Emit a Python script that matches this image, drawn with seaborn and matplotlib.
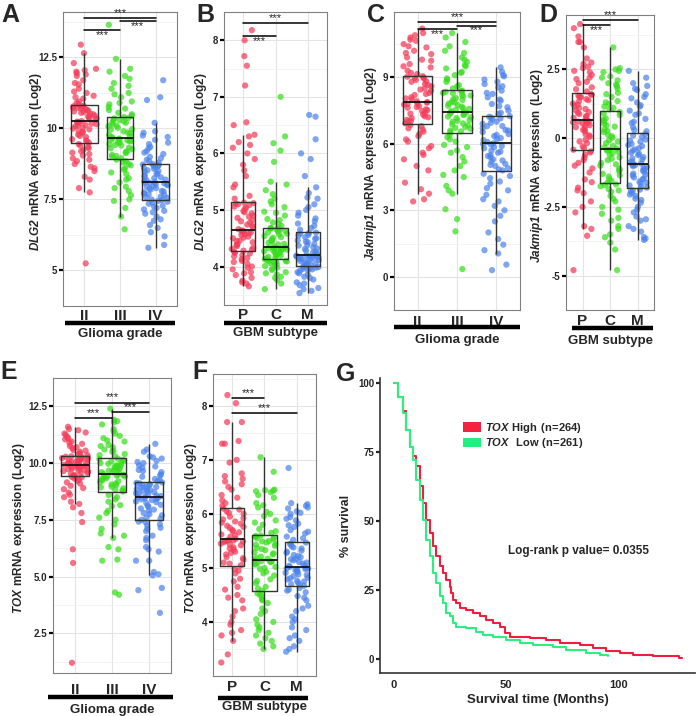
import numpy as np
import pandas as pd
import matplotlib
matplotlib.use("Agg")
import matplotlib.pyplot as plt
from matplotlib.patches import Patch
import seaborn as sns

# ---- values ----
grades = ["II", "III", "IV"]
subtypes = ["P", "C", "M"]

# A: DLG2 by glioma grade
dlg2_grade_II = [5.25, 7.75, 7.9, 8.3, 8.5, 8.6, 8.75, 8.85, 8.95, 9.05, 9.15, 9.25, 9.35, 9.45,
                 9.5, 9.55, 9.62, 9.7, 9.78, 9.85, 9.9, 9.97, 10.03, 10.08, 10.12, 10.17, 10.2, 10.24,
                 10.26, 10.3, 10.35, 10.4, 10.45, 10.5, 10.55, 10.6, 10.63, 10.67, 10.7, 10.73, 10.76, 10.8,
                 10.85, 10.95, 11.05, 11.15, 11.25, 11.4, 11.55, 11.7, 11.85, 11.95, 12.05, 12.3, 12.65, 12.95,
                 8.2, 8.65, 8.9, 9.1, 9.2, 9.3, 9.4, 9.58, 9.74, 9.88, 10.0, 10.1, 10.15, 10.22,
                 10.33, 10.43, 10.52, 10.58, 10.65, 10.72, 10.78, 10.9, 11.1, 11.3, 11.6, 11.9, 12.0, 12.1]
dlg2_grade_III = [6.45, 6.9, 7.2, 7.45, 7.65, 7.8, 7.95, 8.1, 8.25, 8.4, 8.55, 8.7, 8.8, 8.9,
                  8.95, 9.0, 9.07, 9.13, 9.2, 9.27, 9.33, 9.4, 9.45, 9.5, 9.55, 9.58, 9.62, 9.64,
                  9.66, 9.7, 9.77, 9.83, 9.9, 9.96, 10.02, 10.08, 10.14, 10.2, 10.25, 10.3, 10.35, 10.4,
                  10.45, 10.55, 10.65, 10.75, 10.85, 10.95, 11.1, 11.25, 11.4, 11.6, 11.85, 12.1, 12.45, 13.65,
                  7.5, 7.9, 8.2, 8.45, 8.6, 8.75, 8.85, 9.03, 9.17, 9.3, 9.42, 9.52, 9.56, 9.6,
                  9.74, 9.86, 9.98, 10.1, 10.22, 10.3, 10.37, 10.5, 10.7, 10.9, 11.2, 11.5, 11.75, 12.0]
dlg2_grade_IV = [5.8, 5.9, 6.2, 6.35, 6.6, 6.75, 6.9, 7.0, 7.1, 7.2, 7.28, 7.35, 7.42, 7.48,
                 7.5, 7.55, 7.6, 7.65, 7.7, 7.75, 7.8, 7.85, 7.9, 7.95, 8.0, 8.04, 8.07, 8.09,
                 8.11, 8.15, 8.2, 8.25, 8.3, 8.36, 8.42, 8.48, 8.53, 8.58, 8.63, 8.67, 8.71, 8.75,
                 8.8, 8.9, 9.0, 9.1, 9.2, 9.3, 9.45, 9.6, 9.75, 9.85, 10.2, 11.0, 11.1, 11.7,
                 6.5, 6.8, 7.05, 7.15, 7.25, 7.38, 7.45, 7.58, 7.68, 7.78, 7.88, 7.98, 8.02, 8.08,
                 8.18, 8.28, 8.39, 8.5, 8.6, 8.69, 8.73, 8.85, 8.95, 9.15, 9.35, 9.5, 9.7, 9.9]

# B: DLG2 by GBM subtype
dlg2_sub_P = [3.65, 3.7, 3.75, 3.8, 3.85, 3.9, 3.95, 4.0, 4.05, 4.1, 4.15, 4.2, 4.23, 4.26,
              4.28, 4.3, 4.33, 4.36, 4.4, 4.43, 4.46, 4.5, 4.53, 4.56, 4.59, 4.61, 4.63, 4.64,
              4.66, 4.7, 4.74, 4.78, 4.82, 4.86, 4.9, 4.94, 4.98, 5.02, 5.06, 5.09, 5.11, 5.13,
              5.2, 5.4, 5.6, 5.8, 6.0, 6.15, 6.33, 6.5, 6.55, 7.2, 7.55, 7.72, 8.0, 8.18,
              3.72, 3.88, 3.98, 4.08, 4.13, 4.18, 4.24, 4.31, 4.38, 4.45, 4.51, 4.57, 4.6, 4.62,
              4.72, 4.8, 4.88, 4.96, 5.04, 5.1, 5.12, 5.25, 5.45, 5.7, 5.9, 6.1, 6.2, 6.3]
dlg2_sub_C = [3.6, 3.7, 3.76, 3.82, 3.86, 3.9, 3.94, 3.98, 4.01, 4.04, 4.07, 4.09, 4.1, 4.11,
              4.13, 4.15, 4.17, 4.19, 4.21, 4.23, 4.25, 4.27, 4.29, 4.3, 4.31, 4.32, 4.33, 4.34,
              4.36, 4.39, 4.42, 4.45, 4.48, 4.51, 4.54, 4.57, 4.6, 4.62, 4.64, 4.66, 4.67, 4.68,
              4.72, 4.78, 4.84, 4.9, 4.97, 5.05, 5.15, 5.28, 5.45, 5.85, 6.05, 6.18, 6.3, 7.0,
              3.8, 3.88, 3.96, 4.02, 4.06, 4.08, 4.1, 4.16, 4.2, 4.24, 4.28, 4.3, 4.32, 4.33,
              4.4, 4.46, 4.52, 4.58, 4.63, 4.66, 4.68, 4.75, 4.82, 4.95, 5.1, 5.2, 5.35, 5.5]
dlg2_sub_M = [3.53, 3.57, 3.62, 3.67, 3.72, 3.77, 3.82, 3.86, 3.9, 3.93, 3.95, 3.97, 3.98, 3.99,
              4.01, 4.03, 4.05, 4.07, 4.09, 4.11, 4.13, 4.14, 4.15, 4.16, 4.17, 4.18, 4.19, 4.2,
              4.22, 4.25, 4.28, 4.31, 4.34, 4.37, 4.4, 4.43, 4.46, 4.49, 4.52, 4.55, 4.58, 4.6,
              4.65, 4.72, 4.8, 4.9, 5.0, 5.1, 5.22, 5.4, 5.6, 5.9, 6.0, 6.25, 6.65, 6.68,
              3.6, 3.7, 3.8, 3.88, 3.94, 3.96, 3.99, 4.02, 4.06, 4.1, 4.13, 4.16, 4.18, 4.19,
              4.26, 4.32, 4.38, 4.44, 4.5, 4.56, 4.59, 4.68, 4.76, 4.85, 4.95, 5.05, 5.2, 5.3]

# C: Jakmip1 by glioma grade
jak_grade_II = [3.4, 3.5, 3.75, 3.95, 4.25, 4.8, 5.3, 5.6, 5.8, 6.1, 6.35, 6.55, 6.7, 6.85,
                6.92, 7.0, 7.08, 7.16, 7.24, 7.32, 7.4, 7.48, 7.56, 7.63, 7.7, 7.77, 7.83, 7.88,
                7.92, 8.0, 8.1, 8.2, 8.3, 8.4, 8.5, 8.6, 8.7, 8.8, 8.88, 8.95, 9.0, 9.05,
                9.15, 9.3, 9.45, 9.6, 9.75, 9.9, 10.05, 10.2, 10.35, 10.5, 10.65, 10.8, 11.0, 11.2,
                5.0, 5.5, 5.9, 6.2, 6.45, 6.65, 6.8, 7.04, 7.2, 7.36, 7.52, 7.66, 7.8, 7.86,
                8.05, 8.25, 8.45, 8.65, 8.82, 8.98, 9.03, 9.2, 9.5, 9.8, 10.1, 10.4, 10.7, 10.9]
jak_grade_III = [0.35, 2.05, 2.6, 3.05, 3.75, 3.9, 4.5, 4.6, 5.0, 5.4, 5.7, 5.95, 6.2, 6.4,
                 6.52, 6.6, 6.68, 6.76, 6.84, 6.92, 7.0, 7.08, 7.16, 7.23, 7.3, 7.36, 7.41, 7.44,
                 7.47, 7.54, 7.61, 7.68, 7.75, 7.82, 7.9, 7.98, 8.06, 8.14, 8.22, 8.29, 8.35, 8.4,
                 8.5, 8.65, 8.8, 8.95, 9.1, 9.25, 9.4, 9.55, 9.7, 9.9, 10.1, 10.4, 10.8, 11.0,
                 4.1, 4.8, 5.2, 5.6, 5.85, 6.1, 6.3, 6.56, 6.72, 6.88, 7.04, 7.2, 7.33, 7.43,
                 7.58, 7.72, 7.86, 8.02, 8.18, 8.3, 8.38, 8.6, 8.9, 9.2, 9.5, 9.8, 10.2, 10.6]
jak_grade_IV = [0.3, 0.55, 1.05, 1.2, 1.45, 1.7, 2.5, 2.75, 3.2, 3.5, 3.9, 4.2, 4.45, 4.65,
                4.8, 4.9, 5.0, 5.1, 5.2, 5.3, 5.4, 5.5, 5.6, 5.7, 5.8, 5.9, 5.97, 6.02,
                6.08, 6.17, 6.26, 6.35, 6.44, 6.53, 6.62, 6.71, 6.8, 6.9, 7.0, 7.1, 7.18, 7.25,
                7.35, 7.5, 7.65, 7.8, 7.95, 8.1, 8.25, 8.4, 8.55, 8.7, 8.9, 9.05, 9.25, 9.45,
                2.0, 3.0, 3.4, 3.7, 4.0, 4.3, 4.55, 4.85, 5.05, 5.25, 5.45, 5.65, 5.85, 6.0,
                6.2, 6.4, 6.6, 6.8, 6.95, 7.15, 7.22, 7.4, 7.7, 8.0, 8.3, 8.6, 8.8, 9.1]

# D: Jakmip1 by GBM subtype
jak_sub_P = [-4.8, -3.55, -3.3, -3.2, -2.7, -2.3, -2.0, -1.8, -1.5, -1.25, -1.0, -0.8, -0.6, -0.48,
             -0.42, -0.3, -0.18, -0.06, 0.05, 0.15, 0.25, 0.33, 0.4, 0.47, 0.53, 0.58, 0.62, 0.64,
             0.67, 0.74, 0.81, 0.88, 0.95, 1.02, 1.1, 1.18, 1.26, 1.34, 1.42, 1.49, 1.55, 1.6,
             1.7, 1.85, 2.0, 2.15, 2.3, 2.45, 2.6, 2.75, 2.9, 3.3, 3.5, 3.7, 4.0, 4.15,
             -2.5, -1.9, -1.6, -1.1, -0.9, -0.7, -0.52, -0.36, -0.12, 0.1, 0.3, 0.44, 0.55, 0.6,
             0.78, 0.92, 1.06, 1.22, 1.38, 1.5, 1.58, 1.78, 2.05, 2.2, 2.4, 2.55, 2.7, 3.5]
jak_sub_C = [-4.8, -4.05, -3.8, -3.5, -3.2, -3.0, -2.75, -2.5, -2.3, -2.1, -1.95, -1.85, -1.75, -1.68,
             -1.62, -1.5, -1.4, -1.3, -1.2, -1.1, -1.0, -0.9, -0.8, -0.7, -0.6, -0.5, -0.45, -0.42,
             -0.38, -0.28, -0.18, -0.08, 0.02, 0.12, 0.22, 0.32, 0.42, 0.52, 0.62, 0.72, 0.84, 0.95,
             1.05, 1.15, 1.25, 1.35, 1.5, 1.65, 1.8, 1.95, 2.1, 2.25, 2.4, 2.5, 2.55, 3.3,
             -3.6, -3.3, -2.9, -2.6, -2.2, -1.9, -1.7, -1.55, -1.35, -1.15, -0.95, -0.75, -0.55, -0.43,
             -0.33, -0.13, 0.07, 0.27, 0.47, 0.67, 0.9, 1.1, 1.3, 1.6, 1.9, 2.2, 2.45, 2.0]
jak_sub_M = [-3.7, -3.6, -3.4, -3.2, -3.0, -2.85, -2.7, -2.5, -2.35, -2.2, -2.1, -2.0, -1.93, -1.87,
             -1.8, -1.72, -1.65, -1.58, -1.5, -1.43, -1.36, -1.29, -1.22, -1.15, -1.08, -1.02, -0.98, -0.96,
             -0.92, -0.85, -0.77, -0.69, -0.61, -0.53, -0.45, -0.37, -0.29, -0.21, -0.13, -0.05, 0.05, 0.15,
             0.25, 0.4, 0.55, 0.7, 0.85, 1.0, 1.15, 1.3, 1.45, 1.6, 1.75, 1.9, 2.0, 2.45,
             -3.65, -3.3, -2.95, -2.6, -2.25, -2.05, -1.9, -1.76, -1.62, -1.46, -1.32, -1.18, -1.05, -0.97,
             -0.88, -0.73, -0.57, -0.41, -0.25, -0.09, 0.1, 0.3, 0.6, 0.9, 1.2, 1.5, 1.8, 2.2]

# E: TOX by glioma grade
tox_grade_II = [1.2, 5.6, 6.2, 7.4, 7.8, 8.05, 8.3, 8.5, 8.7, 8.85, 9.0, 9.15, 9.27, 9.37,
                9.42, 9.47, 9.52, 9.57, 9.62, 9.67, 9.71, 9.75, 9.79, 9.82, 9.85, 9.87, 9.89, 9.9,
                9.92, 9.95, 9.98, 10.01, 10.04, 10.07, 10.1, 10.13, 10.16, 10.19, 10.22, 10.25, 10.28, 10.3,
                10.35, 10.42, 10.5, 10.58, 10.66, 10.75, 10.85, 10.95, 11.05, 11.15, 11.25, 11.35, 11.5, 11.6,
                8.2, 8.6, 8.9, 9.1, 9.22, 9.32, 9.39, 9.45, 9.55, 9.65, 9.73, 9.8, 9.86, 9.89,
                9.94, 10.0, 10.06, 10.12, 10.18, 10.24, 10.29, 10.4, 10.55, 10.7, 10.9, 11.1, 11.3, 11.45]
tox_grade_III = [4.2, 4.3, 5.7, 5.75, 6.2, 6.3, 6.7, 6.9, 7.3, 7.6, 7.9, 8.15, 8.4, 8.6,
                 8.75, 8.82, 8.89, 8.96, 9.03, 9.1, 9.17, 9.24, 9.3, 9.36, 9.41, 9.45, 9.48, 9.49,
                 9.52, 9.57, 9.62, 9.67, 9.72, 9.77, 9.82, 9.87, 9.92, 9.97, 10.02, 10.08, 10.14, 10.2,
                 10.3, 10.4, 10.5, 10.6, 10.7, 10.8, 10.95, 11.1, 11.3, 11.5, 11.7, 11.85, 11.9, 12.4,
                 6.8, 7.1, 7.5, 7.8, 8.1, 8.3, 8.5, 8.8, 8.93, 9.06, 9.2, 9.33, 9.43, 9.47,
                 9.6, 9.7, 9.8, 9.9, 10.0, 10.1, 10.18, 10.35, 10.55, 10.75, 11.0, 11.2, 11.4, 11.8]
tox_grade_IV = [3.4, 4.4, 4.5, 5.05, 5.2, 5.7, 6.1, 6.3, 6.6, 6.8, 7.0, 7.15, 7.3, 7.4,
                7.5, 7.6, 7.7, 7.8, 7.9, 8.0, 8.08, 8.16, 8.24, 8.31, 8.37, 8.42, 8.46, 8.49,
                8.52, 8.57, 8.62, 8.67, 8.72, 8.77, 8.82, 8.87, 8.92, 8.97, 9.02, 9.07, 9.11, 9.15,
                9.2, 9.3, 9.4, 9.5, 9.6, 9.7, 9.8, 9.9, 10.0, 10.1, 10.2, 10.3, 10.6, 10.85,
                5.1, 5.7, 6.2, 6.7, 7.1, 7.25, 7.42, 7.55, 7.75, 7.95, 8.12, 8.28, 8.4, 8.47,
                8.55, 8.65, 8.75, 8.85, 8.95, 9.05, 9.13, 9.25, 9.45, 9.65, 9.85, 10.05, 10.25, 10.5]

# F: TOX by GBM subtype
tox_sub_P = [3.25, 3.4, 3.65, 3.75, 3.85, 3.95, 4.1, 4.25, 4.4, 4.5, 4.65, 4.8, 4.9, 4.98,
             5.05, 5.1, 5.15, 5.2, 5.25, 5.3, 5.34, 5.38, 5.42, 5.45, 5.48, 5.5, 5.51, 5.52,
             5.54, 5.58, 5.62, 5.66, 5.7, 5.74, 5.78, 5.82, 5.86, 5.9, 5.95, 6.0, 6.05, 6.1,
             6.15, 6.25, 6.35, 6.45, 6.55, 6.65, 6.75, 6.95, 7.0, 7.3, 7.35, 7.7, 8.05, 8.2,
             3.8, 4.0, 4.2, 4.45, 4.6, 4.75, 4.95, 5.08, 5.18, 5.28, 5.36, 5.44, 5.49, 5.51,
             5.6, 5.68, 5.76, 5.84, 5.92, 6.02, 6.08, 6.2, 6.3, 6.5, 6.6, 6.7, 7.3, 7.7]
tox_sub_C = [3.5, 3.6, 3.65, 3.7, 3.8, 3.9, 3.95, 4.05, 4.15, 4.25, 4.35, 4.42, 4.48, 4.53,
             4.58, 4.65, 4.72, 4.79, 4.86, 4.93, 4.98, 5.02, 5.06, 5.09, 5.11, 5.12, 5.13, 5.14,
             5.17, 5.21, 5.25, 5.29, 5.33, 5.37, 5.41, 5.44, 5.47, 5.5, 5.53, 5.56, 5.58, 5.6,
             5.65, 5.72, 5.8, 5.88, 5.96, 6.04, 6.12, 6.2, 6.3, 6.4, 6.42, 6.45, 6.78, 7.05,
             3.55, 3.75, 3.85, 4.0, 4.2, 4.4, 4.5, 4.62, 4.76, 4.9, 5.0, 5.08, 5.12, 5.14,
             5.19, 5.27, 5.35, 5.43, 5.49, 5.55, 5.59, 5.68, 5.84, 6.0, 6.16, 6.35, 6.43, 6.44]
tox_sub_M = [3.45, 3.55, 3.65, 3.75, 3.9, 4.0, 4.1, 4.2, 4.3, 4.4, 4.48, 4.55, 4.6, 4.63,
             4.67, 4.7, 4.73, 4.76, 4.79, 4.82, 4.85, 4.88, 4.91, 4.94, 4.96, 4.98, 4.99, 5.0,
             5.02, 5.05, 5.08, 5.11, 5.14, 5.17, 5.2, 5.24, 5.28, 5.32, 5.36, 5.4, 5.44, 5.47,
             5.52, 5.58, 5.64, 5.7, 5.76, 5.82, 5.88, 5.94, 6.0, 6.05, 6.1, 6.15, 6.2, 6.85,
             3.5, 3.7, 3.85, 4.05, 4.25, 4.45, 4.58, 4.69, 4.75, 4.81, 4.87, 4.93, 4.97, 4.99,
             5.04, 5.1, 5.16, 5.22, 5.3, 5.38, 5.45, 5.55, 5.67, 5.79, 5.91, 6.02, 6.12, 6.18]

# G: Kaplan-Meier curves
high_time = [0, 1.8, 4, 5.5, 7, 8.5, 10, 11.4, 12.9, 14.4, 15.9, 17.4, 18.8, 20.3, 21.8, 23.3, 24.8,
             25.5, 26.3, 27.7, 29.2, 32.2, 35.2, 38.1, 41.1, 44, 47, 49.3, 51.5, 60.4, 67.8, 73.7,
             82.6, 88.6, 94.5, 100.4, 106.4, 115.3, 127, 128]
high_surv = [100, 95, 90, 83, 77, 73.4, 70, 62.6, 56.5, 50.5, 45.6, 40.8, 37.2, 33.6, 31.2, 28.7, 26.3,
             23.9, 21.5, 20.3, 18.5, 17.9, 16.7, 15.5, 14.3, 13, 11.8, 9.4, 8.2, 7.6, 7.0, 5.8,
             5.2, 4.0, 2.8, 2.2, 1.6, 1.0, 0.4, 0.4]
low_time = [0, 1.8, 4, 5.5, 7, 8.5, 10, 11.4, 12.9, 14.4, 15.9, 17.4, 18.8, 20.3, 21.8, 23.3, 24.8,
            26.3, 27.7, 32.2, 36.6, 39.6, 44, 50, 56, 61.9, 70.8, 76.7, 85.6, 91.5, 95.3]
low_surv = [100, 95, 89, 83, 77, 72, 65, 57.7, 50.5, 43.2, 37.2, 31.2, 27.5, 22.7, 20.3, 16.7, 15.5,
            13, 11.8, 11.2, 10, 8.8, 8.2, 7.0, 5.8, 5.2, 4.3, 3.4, 2.4, 1.6, 1.0]

RED, GREEN, BLUE = "#F43B58", "#38DE1C", "#4C84EC"

sns.set_style("white")
plt.rcParams["font.family"] = ["Liberation Sans", "DejaVu Sans"]
plt.rcParams["font.weight"] = "bold"
plt.rcParams["axes.labelweight"] = "bold"
plt.rcParams["mathtext.fontset"] = "custom"
plt.rcParams["mathtext.rm"] = "Liberation Sans:bold"
plt.rcParams["mathtext.bfit"] = "Liberation Sans:italic:bold"
np.random.seed(3)

W, H = 696, 716
fig = plt.figure(figsize=(W / 100, H / 100), dpi=100)


def px_axes(left, top, right, bottom):
    return fig.add_axes([left / W, 1 - bottom / H, (right - left) / W, (bottom - top) / H])


def gene_label(gene, rest):
    # italic gene symbol followed by bold upright text, all in one mathtext string
    rest = rest.replace(" ", r"\ ").replace("=", r"\!=\!")
    return r"$\mathbfit{" + gene + r"}\mathrm{" + rest + "}$"


def box_panel(ax, cats, vals, ylim, yticks, yticklabels, ylabel, ylab_x, xlabel,
              sig, pad, line_x, line_y, lab_y):
    df = pd.DataFrame({"group": np.repeat(cats, [len(v) for v in vals]),
                       "value": np.concatenate(vals)})
    sns.stripplot(data=df, x="group", y="value", hue="group", order=cats,
                  palette=dict(zip(cats, [RED, GREEN, BLUE])), jitter=0.36, size=4.5,
                  alpha=0.72, linewidth=0, legend=False, ax=ax, zorder=1)
    sns.boxplot(data=df, x="group", y="value", order=cats, fill=False, color="#333333",
                width=0.75, showfliers=False, showcaps=False, linewidth=1.0, ax=ax,
                medianprops={"color": "#111111", "linewidth": 1.3}, zorder=3)
    ax.set_xlim(-0.6, 2.6)
    ax.set_ylim(*ylim)
    ax.set_yticks(yticks)
    ax.set_yticklabels(yticklabels)
    mids = [(a + b) / 2 for a, b in zip(yticks[:-1], yticks[1:])]
    step = yticks[1] - yticks[0]
    ax.set_yticks([yticks[0] - step / 2] + mids + [yticks[-1] + step / 2], minor=True)
    ax.set_axisbelow(True)
    ax.grid(which="major", color="#E4E4E4", lw=0.8)
    ax.grid(which="minor", axis="y", color="#F0F0F0", lw=0.5)
    for s in ax.spines.values():
        s.set_color("#808080")
        s.set_linewidth(0.8)
    ax.tick_params(axis="y", which="major", length=3, width=1.6, color="black",
                   labelsize=7, pad=1, left=True)
    ax.tick_params(axis="y", which="minor", length=0)
    ax.tick_params(axis="x", length=0, labelsize=11, pad=pad)
    ax.set_xlabel("")
    ax.set_ylabel(ylabel, fontsize=8.5)
    ax.yaxis.label.set_va("center")
    ax.yaxis.set_label_coords(ylab_x, 0.49)
    for x1, x2, y, where in sig:
        ax.plot([x1, x2], [y, y], color="black", lw=1.1, clip_on=False, zorder=5)
        ax.text((x1 + x2) / 2, y, "***", ha="center",
                va="bottom" if where == "above" else "top",
                fontsize=8, fontweight="normal", color="#222222")
    ax.plot(line_x, [line_y, line_y], transform=ax.transAxes, color="black", lw=3.2,
            clip_on=False, solid_capstyle="butt")
    ax.text(0.5, lab_y, xlabel, transform=ax.transAxes, ha="center", va="center", fontsize=9.5)


# A
ax = px_axes(63, 12, 177, 306)
box_panel(ax, grades, [dlg2_grade_II, dlg2_grade_III, dlg2_grade_IV], (4.8, 14.1),
          [5, 7.5, 10, 12.5], ["5", "7.5", "10", "12.5"],
          gene_label("DLG2", " mRNA expression (Log2)"), -0.235, "Glioma grade",
          [(0, 2, 13.9, "above"), (1, 2, 13.77, "below"), (0, 1, 13.48, "below")],
          2, [0.02, 0.98], -0.058, -0.095)

# B
ax = px_axes(224, 12, 327, 305)
box_panel(ax, subtypes, [dlg2_sub_P, dlg2_sub_C, dlg2_sub_M], (3.32, 8.42),
          [4, 5, 6, 7, 8], ["4", "5", "6", "7", "8"],
          gene_label("DLG2", " mRNA expression (Log2)"), -0.22, "GBM subtype",
          [(0, 2, 8.3, "above"), (0, 1, 8.07, "below")],
          2.5, [0.0, 1.0], -0.061, -0.096)

# C
ax = px_axes(394, 12, 520, 310)
box_panel(ax, grades, [jak_grade_II, jak_grade_III, jak_grade_IV], (-0.29, 11.95),
          [0, 3, 6, 9], ["0", "3", "6", "9"],
          gene_label("Jakmip1", " mRNA expression (Log2)"), -0.185, "Glioma grade",
          [(0, 2, 11.5, "above"), (1, 2, 11.34, "below"), (0, 1, 11.17, "below")],
          3.5, [0.0, 1.0], -0.057, -0.1)

# D
ax = px_axes(566, 15, 654, 310)
box_panel(ax, subtypes, [jak_sub_P, jak_sub_C, jak_sub_M], (-5.26, 4.48),
          [-5, -2.5, 0, 2.5], ["-5", "-2.5", "0", "2.5"],
          gene_label("Jakmip1", " mRNA expression (Log2)"), -0.335, "GBM subtype",
          [(0, 2, 4.3, "above"), (0, 1, 4.1, "below")],
          3, [0.07, 0.99], -0.061, -0.105)

# E
ax = px_axes(53, 378, 171, 673)
box_panel(ax, grades, [tox_grade_II, tox_grade_III, tox_grade_IV], (0.75, 13.0),
          [2.5, 5.0, 7.5, 10.0, 12.5], ["2.5", "5.0", "7.5", "10.0", "12.5"],
          gene_label("TOX", " mRNA expression (Log2)"), -0.29, "Glioma grade",
          [(0, 2, 12.67, "above"), (1, 2, 12.25, "above"), (0, 1, 12.0, "above")],
          7, [-0.04, 1.02], -0.081, -0.125)

# F
ax = px_axes(213, 374, 316, 676)
box_panel(ax, subtypes, [tox_sub_P, tox_sub_C, tox_sub_M], (3.0, 8.59),
          [4, 5, 6, 7, 8], ["4", "5", "6", "7", "8"],
          gene_label("TOX", " mRNA expression (Log2)"), -0.21, "GBM subtype",
          [(0, 1, 8.15, "above"), (0, 2, 7.87, "above")],
          3, [0.05, 0.92], -0.073, -0.103)

# G: survival
ax = px_axes(380, 378, 695, 673)
sns.lineplot(x=high_time, y=high_surv, drawstyle="steps-post", color="#F01E3C", lw=1.5,
             estimator=None, ax=ax)
sns.lineplot(x=low_time, y=low_surv, drawstyle="steps-post", color="#2CF07E", lw=1.5,
             estimator=None, ax=ax)
ax.set_xlim(-6.2, 134)
ax.set_ylim(-5, 101.8)
ax.set_xticks([0, 50, 100])
ax.set_yticks([0, 25, 50, 75, 100])
for side in ["top", "right"]:
    ax.spines[side].set_visible(False)
for side in ["left", "bottom"]:
    ax.spines[side].set_color("#333333")
    ax.spines[side].set_linewidth(1.2)
ax.tick_params(axis="y", length=3, width=1.6, labelsize=7, pad=1, left=True)
ax.tick_params(axis="x", length=0, labelsize=8, pad=5)
ax.set_xlabel("Survival time (Months)", fontsize=9.5, labelpad=3)
ax.set_ylabel("% survival", fontsize=9)
ax.yaxis.label.set_va("center")
ax.yaxis.set_label_coords(-0.108, 0.5)
handles = [Patch(facecolor="#F5223F", edgecolor="none"), Patch(facecolor="#22F07E", edgecolor="none")]
ax.legend(handles, [gene_label("TOX", " High (n=264)"), gene_label("TOX", "  Low (n=261)")],
          loc="upper left", bbox_to_anchor=(0.25, 0.87), frameon=False,
          prop={"weight": "bold", "size": 8},
          handlelength=1.6, handleheight=0.9, handletextpad=0.4, labelspacing=0.15,
          borderaxespad=0)
ax.text(0.405, 0.414, "Log-rank p value= 0.0355", transform=ax.transAxes,
        ha="left", va="center", fontsize=8.5)

# panel letters
for letter, x, y in [("A", 1, 3), ("B", 196, 3), ("C", 367, 3), ("D", 539, 3),
                     ("E", 0, 360), ("F", 192, 360), ("G", 336, 362)]:
    fig.text(x / W, 1 - y / H, letter, fontsize=18, fontweight="bold", ha="left", va="top")

fig.savefig("out.png", dpi=100)
